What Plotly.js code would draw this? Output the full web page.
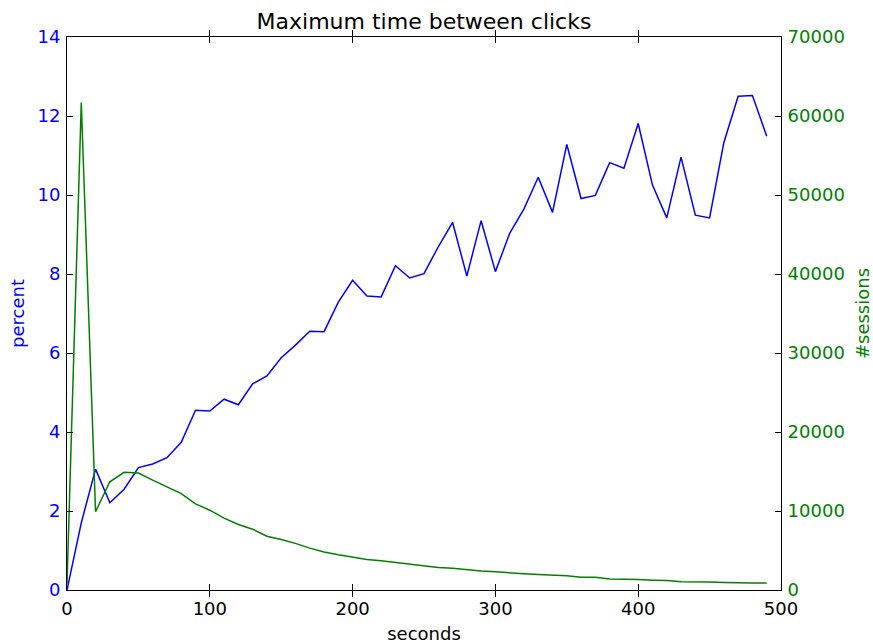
<!DOCTYPE html>
<html>
<head>
<meta charset="utf-8">
<script src="https://cdn.plot.ly/plotly-3.0.1.min.js"></script>
<style>
  html, body { margin: 0; padding: 0; background: #fff; }
  #chart { width: 873px; height: 644px; }
</style>
</head>
<body>
<div id="chart"></div>
<script>
// Maximum gap between clicks, binned every 10 seconds
const seconds = [0, 10, 20, 30, 40, 50, 60, 70, 80, 90,
                 100, 110, 120, 130, 140, 150, 160, 170, 180, 190,
                 200, 210, 220, 230, 240, 250, 260, 270, 280, 290,
                 300, 310, 320, 330, 340, 350, 360, 370, 380, 390,
                 400, 410, 420, 430, 440, 450, 460, 470, 480, 490];

// Share of sessions (percent), left axis
const percent = [0.00, 1.70, 3.06, 2.21, 2.55, 3.10, 3.19, 3.35, 3.74, 4.55,
                 4.53, 4.83, 4.69, 5.22, 5.42, 5.88, 6.20, 6.55, 6.54, 7.29,
                 7.84, 7.44, 7.42, 8.21, 7.90, 8.01, 8.69, 9.31, 7.95, 9.35,
                 8.06, 9.03, 9.65, 10.45, 9.56, 11.28, 9.91, 9.99, 10.82, 10.68,
                 11.81, 10.25, 9.42, 10.96, 9.49, 9.42, 11.33, 12.50, 12.52, 11.49];

// Number of sessions, right axis
const sessions = [800, 61700, 9900, 13700, 14900, 14800, 13900, 13000, 12200, 10900,
                  10100, 9100, 8300, 7700, 6800, 6400, 5900, 5300, 4800, 4450,
                  4150, 3850, 3700, 3500, 3300, 3100, 2850, 2750, 2550, 2400,
                  2300, 2150, 2050, 1950, 1900, 1800, 1600, 1600, 1400, 1400,
                  1330, 1250, 1200, 1050, 1050, 1000, 950, 900, 900, 900];

const xTicks = [0, 100, 200, 300, 400, 500];
const leftTicks = [0, 2, 4, 6, 8, 10, 12, 14];
const rightTicks = [0, 10000, 20000, 30000, 40000, 50000, 60000, 70000];

const BLUE = '#0000ff';
const GREEN = '#008000';
const FONT = 'DejaVu Sans, sans-serif';

const traces = [
  {
    x: seconds, y: percent, type: 'scatter', mode: 'lines',
    line: { color: BLUE, width: 1.5 }, yaxis: 'y', hoverinfo: 'skip'
  },
  {
    x: seconds, y: sessions, type: 'scatter', mode: 'lines',
    line: { color: GREEN, width: 1.5 }, yaxis: 'y2', hoverinfo: 'skip'
  }
];

const layout = {
  width: 873, height: 644,
  margin: { l: 67, r: 92, t: 37, b: 54 },
  paper_bgcolor: '#fff', plot_bgcolor: '#fff',
  showlegend: false,
  font: { family: FONT, size: 18, color: '#000' },
  title: {
    text: 'Maximum time between clicks',
    font: { family: FONT, size: 22, color: '#000' },
    x: 0.5, xref: 'paper', xanchor: 'center',
    y: 1 - 21 / 644, yref: 'container', yanchor: 'middle'
  },
  xaxis: {
    range: [0, 500], tickvals: xTicks, ticktext: xTicks.map(String),
    showgrid: false, zeroline: false,
    showline: true, linecolor: '#000', linewidth: 1, mirror: 'allticks',
    ticks: 'inside', ticklen: 6, tickwidth: 1, tickcolor: '#000',
    tickfont: { family: FONT, size: 18, color: '#000' },
    ticklabelstandoff: 2,
    title: { text: 'seconds', font: { family: FONT, size: 18, color: '#000' }, standoff: 9 }
  },
  yaxis: {
    range: [0, 14], tickvals: leftTicks, ticktext: leftTicks.map(String),
    showgrid: false, zeroline: false,
    showline: true, linecolor: '#000', linewidth: 1,
    ticks: 'inside', ticklen: 6, tickwidth: 1, tickcolor: '#000',
    tickfont: { family: FONT, size: 18, color: BLUE },
    ticklabelstandoff: 2,
    title: { text: 'percent', font: { family: FONT, size: 18, color: BLUE }, standoff: 8 }
  },
  yaxis2: {
    overlaying: 'y', side: 'right',
    range: [0, 70000], tickvals: rightTicks, ticktext: rightTicks.map(String),
    showgrid: false, zeroline: false,
    showline: true, linecolor: '#000', linewidth: 1,
    ticks: 'inside', ticklen: 6, tickwidth: 1, tickcolor: '#000',
    tickfont: { family: FONT, size: 18, color: GREEN },
    ticklabelstandoff: 2,
    title: { text: '#sessions', font: { family: FONT, size: 18, color: GREEN }, standoff: 12 }
  }
};

Plotly.newPlot('chart', traces, layout, { staticPlot: true, displayModeBar: false });
</script>
</body>
</html>
